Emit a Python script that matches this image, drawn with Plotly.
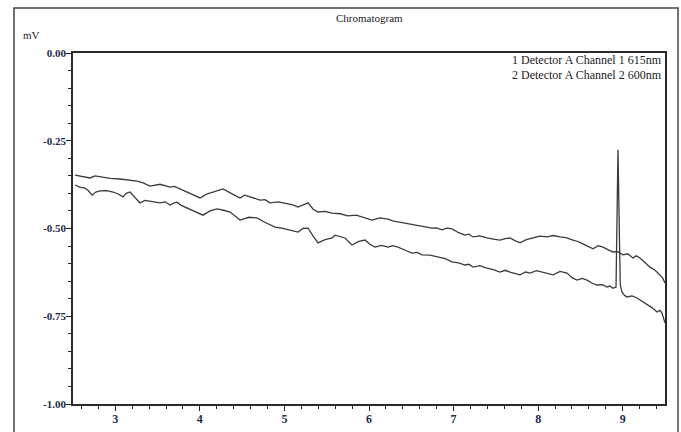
import plotly.graph_objects as go

# Channel 1 (615 nm) - retention time (min), signal (mV)
ch1_time = [2.524, 2.61, 2.701, 2.76, 2.819, 2.94, 3.056, 3.15, 3.257, 3.33,
            3.410, 3.53, 3.647, 3.70, 3.765, 3.88, 4.002, 4.08, 4.155, 4.22,
            4.274, 4.37, 4.475, 4.53, 4.593, 4.65, 4.711, 4.77, 4.829, 4.93,
            5.042, 5.10, 5.160, 5.22, 5.279, 5.34, 5.397, 5.48, 5.563, 5.66,
            5.752, 5.85, 5.953, 5.99, 6.036, 6.13, 6.225, 6.28, 6.343, 6.44,
            6.544, 6.64, 6.745, 6.80, 6.863, 6.92, 6.982, 7.06, 7.135, 7.18,
            7.230, 7.31, 7.395, 7.47, 7.549, 7.61, 7.667, 7.73, 7.786, 7.86,
            7.939, 8.02, 8.105, 8.18, 8.259, 8.33, 8.412, 8.47, 8.530, 8.59,
            8.649, 8.71, 8.767, 8.83, 8.885, 8.94, 9.003, 9.06, 9.121, 9.16,
            9.204, 9.26, 9.322, 9.38, 9.441, 9.47, 9.500]
ch1_mv = [-0.348, -0.352, -0.356, -0.350, -0.353, -0.357, -0.359, -0.362, -0.365, -0.370,
          -0.379, -0.374, -0.382, -0.380, -0.387, -0.398, -0.413, -0.402, -0.396, -0.392,
          -0.387, -0.400, -0.413, -0.405, -0.410, -0.414, -0.419, -0.418, -0.427, -0.424,
          -0.430, -0.433, -0.439, -0.432, -0.427, -0.445, -0.453, -0.451, -0.456, -0.458,
          -0.464, -0.462, -0.470, -0.474, -0.476, -0.470, -0.473, -0.478, -0.481, -0.484,
          -0.490, -0.493, -0.499, -0.498, -0.504, -0.499, -0.501, -0.512, -0.519, -0.516,
          -0.524, -0.521, -0.527, -0.530, -0.533, -0.529, -0.527, -0.535, -0.541, -0.532,
          -0.527, -0.522, -0.524, -0.520, -0.524, -0.526, -0.533, -0.537, -0.544, -0.550,
          -0.558, -0.549, -0.553, -0.561, -0.567, -0.566, -0.575, -0.572, -0.584, -0.578,
          -0.584, -0.596, -0.610, -0.618, -0.632, -0.640, -0.655]

# Channel 2 (600 nm)
ch2_time = [2.524, 2.58, 2.642, 2.68, 2.725, 2.77, 2.819, 2.90, 2.973, 3.03,
            3.091, 3.13, 3.174, 3.23, 3.292, 3.35, 3.410, 3.47, 3.529, 3.59,
            3.647, 3.69, 3.730, 3.78, 3.824, 3.93, 4.037, 4.12, 4.203, 4.28,
            4.356, 4.42, 4.475, 4.58, 4.676, 4.75, 4.829, 4.889, 4.97, 5.042,
            5.10, 5.160, 5.22, 5.279, 5.34, 5.397, 5.48, 5.563, 5.598, 5.66,
            5.716, 5.76, 5.799, 5.88, 5.953, 6.01, 6.071, 6.15, 6.225, 6.28,
            6.343, 6.43, 6.509, 6.57, 6.627, 6.72, 6.816, 6.90, 6.982, 7.06,
            7.135, 7.18, 7.230, 7.31, 7.395, 7.47, 7.549, 7.61, 7.667, 7.73,
            7.786, 7.85, 7.904, 7.98, 8.058, 8.12, 8.176, 8.26, 8.341, 8.40,
            8.459, 8.52, 8.578, 8.64, 8.696, 8.76, 8.814, 8.85, 8.885, 8.921,
            8.933, 8.944, 8.958, 8.971, 8.991, 9.02, 9.050, 9.11, 9.168, 9.23,
            9.287, 9.35, 9.405, 9.44, 9.464, 9.48, 9.500]
ch2_mv = [-0.376, -0.382, -0.385, -0.392, -0.405, -0.396, -0.393, -0.392, -0.396, -0.401,
          -0.410, -0.400, -0.396, -0.412, -0.427, -0.420, -0.422, -0.425, -0.427, -0.424,
          -0.433, -0.428, -0.425, -0.434, -0.439, -0.452, -0.462, -0.450, -0.444, -0.448,
          -0.453, -0.465, -0.476, -0.468, -0.470, -0.480, -0.490, -0.496, -0.499, -0.504,
          -0.506, -0.510, -0.500, -0.499, -0.522, -0.541, -0.532, -0.527, -0.519, -0.524,
          -0.527, -0.538, -0.547, -0.537, -0.533, -0.545, -0.553, -0.548, -0.553, -0.549,
          -0.553, -0.562, -0.570, -0.568, -0.575, -0.576, -0.581, -0.586, -0.595, -0.598,
          -0.604, -0.602, -0.610, -0.606, -0.613, -0.617, -0.624, -0.619, -0.624, -0.628,
          -0.632, -0.624, -0.627, -0.620, -0.624, -0.629, -0.632, -0.622, -0.627, -0.640,
          -0.647, -0.642, -0.647, -0.656, -0.661, -0.660, -0.667, -0.664, -0.670, -0.667,
          -0.470, -0.276, -0.480, -0.660, -0.681, -0.690, -0.695, -0.692, -0.698, -0.708,
          -0.718, -0.726, -0.738, -0.733, -0.741, -0.755, -0.769]

x_ticks = [3, 4, 5, 6, 7, 8, 9]
y_ticks = [-1.0, -0.75, -0.5, -0.25, 0.0]
y_tick_text = ["-1.00", "-0.75", "-0.50", "-0.25", "0.00"]
legend_lines = ["1 Detector A Channel 1 615nm", "2 Detector A Channel 2 600nm"]

SERIF = "Liberation Serif"
LINE = "#3a3a3a"

fig = go.Figure()
fig.add_trace(go.Scatter(x=ch1_time, y=ch1_mv, mode="lines",
                         line=dict(color=LINE, width=1.3), name=legend_lines[0]))
fig.add_trace(go.Scatter(x=ch2_time, y=ch2_mv, mode="lines",
                         line=dict(color=LINE, width=1.3), name=legend_lines[1]))

fig.update_layout(
    width=681, height=432,
    margin=dict(l=73, r=16, t=53, b=28, autoexpand=False),
    paper_bgcolor="white", plot_bgcolor="white",
    showlegend=False,
    font=dict(family=SERIF, color="#1c2340"),
)
fig.update_xaxes(
    range=[2.5, 9.5], tickvals=x_ticks, ticks="outside", ticklen=5, tickwidth=1.2,
    tickcolor="#222", showgrid=False, zeroline=False, automargin=False,
    showline=True, linecolor="#2a2a2a", linewidth=1.6, mirror=True,
    ticklabelstandoff=-2,
    tickfont=dict(family=SERIF, size=12, color="#1c2a4a", weight="bold"),
    minor=dict(dtick=0.2, tick0=0, ticks="outside", ticklen=3, tickcolor="#222", showgrid=False),
)
fig.update_yaxes(
    range=[-1.0, 0.0], tickvals=y_ticks, ticktext=y_tick_text, ticks="outside",
    ticklen=5, tickwidth=1.2, tickcolor="#222", showgrid=False, zeroline=False,
    automargin=False, ticklabelstandoff=-2,
    showline=True, linecolor="#2a2a2a", linewidth=1.6, mirror=True,
    tickfont=dict(family=SERIF, size=11, color="#1c2a4a", weight="bold"),
    minor=dict(dtick=0.05, tick0=0, ticks="outside", ticklen=3, tickcolor="#222", showgrid=False),
)

# Title, unit label and channel legend as text
fig.add_annotation(text="Chromatogram", xref="paper", yref="paper", x=0.5, y=1.101,
                   xanchor="center", yanchor="middle", showarrow=False,
                   font=dict(family=SERIF, size=11, color="#222"))
fig.add_annotation(text="mV", xref="paper", yref="paper", x=-0.07, y=1.052,
                   xanchor="center", yanchor="middle", showarrow=False,
                   font=dict(family=SERIF, size=11, color="#222"))
for i, t in enumerate(legend_lines):
    fig.add_annotation(text=t, xref="paper", yref="paper", x=0.999, y=0.98 - i * 0.043,
                       xanchor="right", yanchor="middle", showarrow=False,
                       font=dict(family=SERIF, size=12, color="#222"))

# Outer frame
fig.add_shape(type="rect", xref="paper", yref="paper", x0=-0.0997, x1=1.022,
              y0=-0.2, y1=1.128, line=dict(color="#444", width=1.5), layer="below")

fig.write_html("out.html")
